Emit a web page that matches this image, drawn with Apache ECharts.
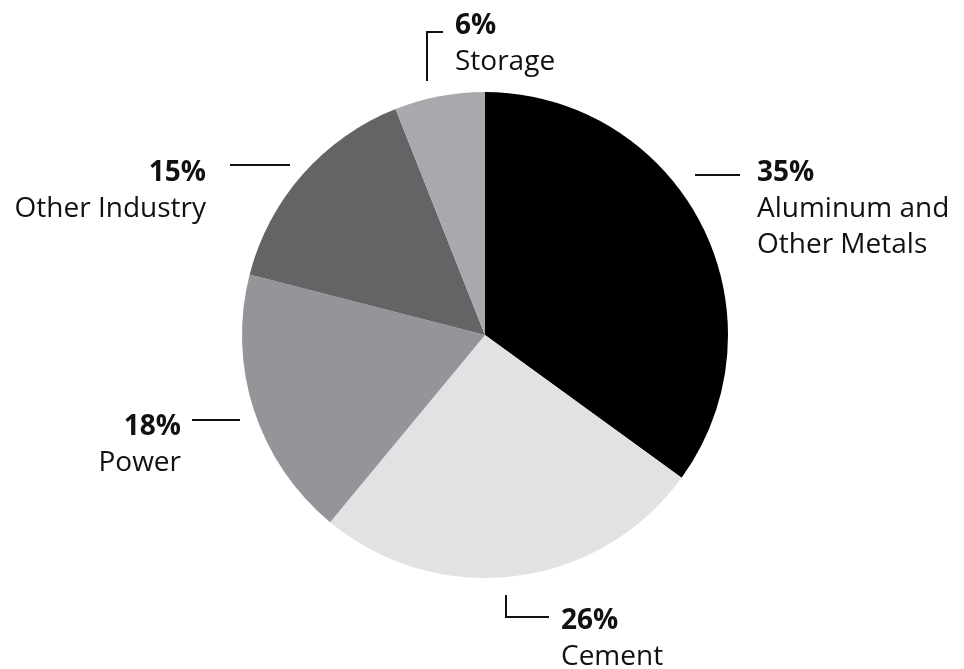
<!DOCTYPE html>
<html>
<head>
<meta charset="utf-8">
<script src="https://cdn.jsdelivr.net/npm/echarts@6/dist/echarts.min.js"></script>
<style>html,body{margin:0;padding:0;background:#fff}#c{width:964px;height:669px}</style>
</head>
<body>
<div id="c"></div>
<script>
const categories = ['Aluminum and\nOther Metals', 'Cement', 'Power', 'Other Industry', 'Storage'];
const values = [35, 26, 18, 15, 6];
const colors = ['#000000', '#e1e2e3', '#939598', '#636466', '#a7a9ac'];

// label placement (text anchor + leader line points)
const labelPos = [
  { x: 757, y: 155, align: 'left',  line: [[695, 175], [718, 175], [740, 175]] },
  { x: 561, y: 603, align: 'left',  line: [[506, 595], [506, 617], [549, 617]] },
  { x: 181, y: 409, align: 'right', line: [[240, 420], [216, 420], [192, 420]] },
  { x: 206, y: 155, align: 'right', line: [[290, 165], [260, 165], [230, 165]] },
  { x: 455, y: 8,   align: 'left',  line: [[427, 81], [427, 32], [443, 32]] }
];

const chart = echarts.init(document.getElementById('c'));
const FONT = '"Open Sans", sans-serif';
chart.setOption({
  animation: false,
  series: [{
    type: 'pie',
    center: [485, 335],
    radius: 243,
    startAngle: 90,
    clockwise: true,
    data: categories.map((n, i) => ({ name: n, value: values[i], itemStyle: { color: colors[i] } })),
    label: {
      show: true,
      formatter: p => '{p|' + p.value + '%}\n' + p.name.split('\n').map(s => '{n|' + s + '}').join('\n'),
      rich: {
        p: { fontFamily: FONT, fontSize: 28, fontWeight: 'bold', color: '#111', lineHeight: 36 },
        n: { fontFamily: FONT, fontSize: 28, color: '#111', lineHeight: 36 }
      }
    },
    labelLine: { show: true, lineStyle: { color: '#111', width: 2 } },
    labelLayout: function (params) {
      const L = labelPos[params.dataIndex];
      return { x: L.x, y: L.y, align: L.align, verticalAlign: 'top', labelLinePoints: L.line };
    }
  }]
});
</script>
</body>
</html>
